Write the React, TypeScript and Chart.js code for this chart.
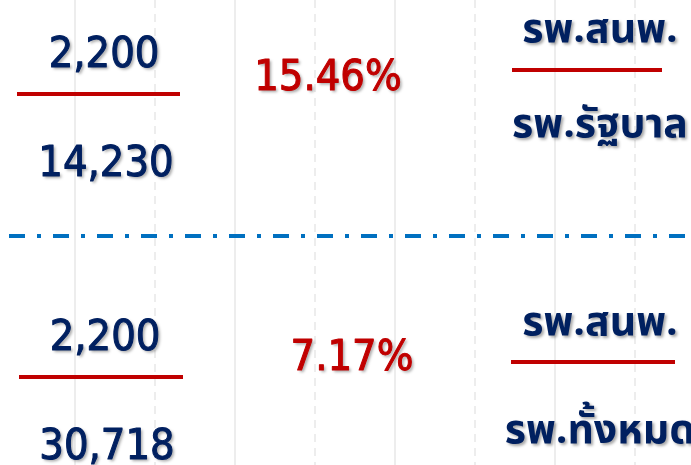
import React, { useEffect, useRef } from "react";
import { Chart, registerables } from "chart.js";

Chart.register(...registerables);

// ---- data ----
const numerators = [2200, 2200];
const denominators = [14230, 30718];
const percentages = [15.46, 7.17];
const numeratorLabels = ["รพ.สนพ.", "รพ.สนพ."];
const denominatorLabels = ["รพ.รัฐบาล", "รพ.ทั้งหมด"];
const gridTicks = [75, 155, 235, 315, 395, 475, 555, 635];

// ---- layout (pixel-like units on the x/y scales) ----
const W = 691;
const H = 465;
const numCenterX = [104, 105];
const numBaseY = [67, 350];
const denCenterX = [106, 107];
const denBaseY = [176, 459];
const pctCenterX = [328, 352];
const pctBaseY = [90, 370];
const lblCenterX = [600, 600];
const lblNumBaseY = [42, 335];
const lblDenBaseY = [137, 443];
const leftBarX = [[17, 180], [19, 183]];
const leftBarY = [94, 377];
const rightBarX = [[512, 662], [511, 675]];
const rightBarY = [70, 362];
const dividerX = [9, 691];
const dividerY = 236;

const NAVY = "#002060";
const RED = "#C00000";
const BLUE = "#0070C0";
const NUM_FONT = '43px "DejaVu Sans Condensed", "DejaVu Sans", sans-serif';
const THAI_FONT = 'bold 41px Tahoma, "Noto Sans Thai", "Noto Sans", sans-serif';

const fmt = (n: number) => n.toLocaleString("en-US");

const textPlugin = {
  id: "fractionText",
  afterDatasetsDraw(chart: any) {
    const { ctx, scales } = chart;
    const xs = scales.x;
    const ys = scales.y;
    const draw = (t: string, x: number, y: number, color: string, font: string, thick: number) => {
      ctx.save();
      ctx.font = font;
      ctx.textAlign = "center";
      ctx.textBaseline = "alphabetic";
      ctx.shadowColor = "rgba(0,0,0,0.35)";
      ctx.shadowOffsetX = 2;
      ctx.shadowOffsetY = 2;
      ctx.shadowBlur = 3;
      ctx.fillStyle = color;
      const px = xs.getPixelForValue(x);
      const py = ys.getPixelForValue(y);
      ctx.fillText(t, px, py);
      if (thick > 0) {
        ctx.shadowColor = "rgba(0,0,0,0)";
        ctx.strokeStyle = color;
        ctx.lineWidth = thick;
        ctx.lineJoin = "round";
        ctx.strokeText(t, px, py);
      }
      ctx.restore();
    };
    for (let i = 0; i < numerators.length; i++) {
      draw(fmt(numerators[i]), numCenterX[i], numBaseY[i], NAVY, NUM_FONT, 1);
      draw(fmt(denominators[i]), denCenterX[i], denBaseY[i], NAVY, NUM_FONT, 1);
      draw(percentages[i].toFixed(2) + "%", pctCenterX[i], pctBaseY[i], RED, NUM_FONT, 1);
      draw(numeratorLabels[i], lblCenterX[i], lblNumBaseY[i], NAVY, THAI_FONT, 0);
      draw(denominatorLabels[i], lblCenterX[i], lblDenBaseY[i], NAVY, THAI_FONT, 0);
    }
  },
};

export default function App() {
  const ref = useRef<HTMLCanvasElement | null>(null);
  useEffect(() => {
    if (!ref.current) return;
    const bar = (xr: number[], y: number) => ({
      data: [
        { x: xr[0], y },
        { x: xr[1], y },
      ],
      borderColor: RED,
      borderWidth: 4,
      pointRadius: 0,
      borderCapStyle: "butt" as const,
    });
    const datasets: any[] = [];
    for (let i = 0; i < numerators.length; i++) {
      datasets.push(bar(leftBarX[i], leftBarY[i]));
      datasets.push(bar(rightBarX[i], rightBarY[i]));
    }
    datasets.push({
      data: [
        { x: dividerX[0], y: dividerY },
        { x: dividerX[1], y: dividerY },
      ],
      borderColor: BLUE,
      borderWidth: 4,
      borderDash: [16, 12, 4, 12],
      pointRadius: 0,
      borderCapStyle: "butt",
    });
    const chart = new Chart(ref.current, {
      type: "line",
      data: { datasets },
      options: {
        animation: false,
        responsive: false,
        devicePixelRatio: 1,
        layout: { padding: 0 },
        plugins: { legend: { display: false }, tooltip: { enabled: false } },
        scales: {
          x: {
            type: "linear",
            min: 0,
            max: W,
            afterBuildTicks: (scale: any) => {
              scale.ticks = gridTicks.map((v) => ({ value: v }));
            },
            ticks: { display: false },
            grid: { color: "#ededed", lineWidth: 2, drawTicks: false },
            border: {
              display: false,
              dash: (c: any) => (c.index % 2 === 1 ? [8, 6] : []),
            },
          },
          y: {
            type: "linear",
            min: 0,
            max: H,
            reverse: true,
            display: false,
          },
        },
      } as any,
      plugins: [textPlugin],
    });
    return () => chart.destroy();
  }, []);
  return (
    <div style={{ position: "fixed", left: 0, top: 0, width: W, height: H, background: "#fff" }}>
      <canvas ref={ref} width={W} height={H} />
    </div>
  );
}
